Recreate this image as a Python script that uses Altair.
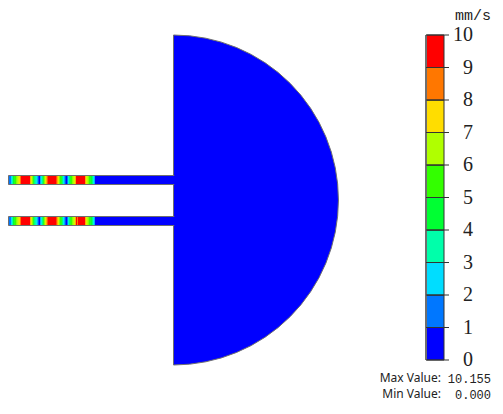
import altair as alt
import pandas as pd

# Speed legend
levels = [0, 1, 2, 3, 4, 5, 6, 7, 8, 9]
level_colors = ["#0000ff", "#0077ff", "#00ddff", "#00ffaa", "#00ff33",
                "#33ff00", "#b0ff00", "#ffdd00", "#ff7700", "#ff0000"]
tick_values = [0, 1, 2, 3, 4, 5, 6, 7, 8, 9, 10]

# Speed read along the first 86 mm of each gate channel (one value per mm)
upper_speed = [1.5, 1.5, 2.5, 3.5, 4.5, 5, 5.5, 6, 6.5, 7, 7.5, 8.5, 9.5,
               10, 10, 10, 10, 10, 10, 10, 10, 8, 7, 6, 5, 4, 3.5, 3, 2, 1, 0.5,
               2, 3, 4, 5, 6, 7, 8, 9,
               10, 10, 10, 10, 10, 10, 10, 10, 9, 8, 7, 6, 5.5, 5, 4, 3, 2, 1, 0.5,
               1.5, 3, 4, 5, 5.5, 6, 6.5, 7, 8,
               10, 10, 10, 10, 10, 10, 10, 10, 10, 8, 7, 6.5, 6, 5.5, 5, 4.5, 4, 3, 2]
lower_speed = [1.5, 1.5, 2.5, 3.5, 4.5, 5, 5.5, 6, 6.5, 7, 7.5, 8.5, 9.5,
               10, 10, 10, 10, 10, 10, 10, 10, 8, 7, 6, 5, 4, 3.5, 3, 2, 1, 0.5,
               2, 3, 4, 5, 6, 7, 8, 9,
               10, 10, 10, 10, 10, 10, 10, 10, 9, 8, 7, 6, 5.5, 5, 4, 3, 2, 1, 0.5,
               1.5, 3, 4, 5, 5.5, 6, 6.5, 7, 8,
               10, 8.5, 10, 10, 10, 10, 10, 10, 10, 8, 7, 6.5, 6, 5.5, 5, 4.5, 4, 3, 2]

# Geometry of the part, in model units
channel_start = 9
channel_end = 174
channel_upper = (175.5, 184.5)
channel_lower = (216.5, 225.5)
disc_centre = (173.5, 200)
disc_radius = 165

W, H = 487, 398
X = alt.Scale(domain=[8, 8 + W], range=[0, W], nice=False, zero=False)
Y = alt.Scale(domain=[8 + H, 8], range=[H, 0], nice=False, zero=False)
LEG = alt.Scale(domain=[0, 10], range=[352, 27], nice=False, zero=False)
R = alt.Scale(domain=[0, disc_radius], range=[0, disc_radius], zero=True)
COL = alt.Scale(type="threshold", domain=levels[1:], range=level_colors)
SMOOTH = alt.Scale(domain=[l + 0.5 for l in levels], range=level_colors, clamp=True)
GRAY = "#6f6f6f"
DARK = "#333333"
MONO = "Liberation Mono"
NARROW = "Liberation Sans Narrow"
SANS = "Noto Sans"


def channel(y0, y1):
    return alt.Chart(pd.DataFrame({"a": [channel_start - 0.5], "b": [channel_end],
                                   "y0": [y0], "y1": [y1]})).mark_rect(
        fill="#0000ff", stroke=GRAY, strokeWidth=1).encode(
        x=alt.X("a:Q", scale=X, axis=None), x2="b:Q",
        y=alt.Y("y0:Q", scale=Y, axis=None), y2="y1:Q")


def junction(y0, y1):
    return alt.Chart(pd.DataFrame({"a": [channel_end - 6], "b": [channel_end + 3],
                                   "y0": [y0 + 0.5], "y1": [y1 - 0.5]})).mark_rect(
        fill="#0000ff").encode(
        x=alt.X("a:Q", scale=X, axis=None), x2="b:Q",
        y=alt.Y("y0:Q", scale=Y, axis=None), y2="y1:Q")


def strip(speed, y0, y1):
    df = pd.DataFrame({"a": [channel_start + i for i in range(len(speed))],
                       "b": [channel_start + i + 1 for i in range(len(speed))],
                       "v": speed, "y0": y0 + 0.5, "y1": y1 - 0.5})
    return alt.Chart(df).mark_rect().encode(
        x=alt.X("a:Q", scale=X, axis=None), x2="b:Q",
        y=alt.Y("y0:Q", scale=Y, axis=None), y2="y1:Q",
        color=alt.Color("v:Q", scale=SMOOTH, legend=None))


disc = alt.Chart(pd.DataFrame({"x": [disc_centre[0]], "y": [disc_centre[1]],
                               "r": [disc_radius]})).mark_arc(
    theta=0, theta2=3.14159265, fill="#0000ff", stroke=GRAY, strokeWidth=1).encode(
    x=alt.X("x:Q", scale=X, axis=None),
    y=alt.Y("y:Q", scale=Y, axis=None),
    radius=alt.Radius("r:Q", scale=R))

bar = alt.Chart(pd.DataFrame({"lo": levels, "hi": [l + 1 for l in levels],
                              "c": [l + 0.5 for l in levels]})).mark_rect(
    stroke=DARK, strokeWidth=1).encode(
    x=alt.value(418.5), x2=alt.value(436),
    y=alt.Y("lo:Q", scale=LEG, axis=None), y2="hi:Q",
    color=alt.Color("c:Q", scale=COL, legend=None))

ticks_df = pd.DataFrame({"t": tick_values, "s": [str(t) for t in tick_values]})
edge = alt.Chart(pd.DataFrame({"lo": [0], "hi": [10]})).mark_rule(
    color=GRAY, strokeWidth=2).encode(
    x=alt.value(418), y=alt.Y("lo:Q", scale=LEG, axis=None), y2="hi:Q")
ticks = alt.Chart(ticks_df).mark_rule(color=DARK, strokeWidth=1).encode(
    x=alt.value(418), x2=alt.value(441),
    y=alt.Y("t:Q", scale=LEG, axis=None))
labels = alt.Chart(ticks_df).mark_text(
    font=NARROW, fontSize=20, align="right", baseline="middle", color="#222222").encode(
    x=alt.value(465), y=alt.Y("t:Q", scale=LEG, axis=None), text="s:N")


def note(text, x, y, font, size, align="right"):
    return alt.Chart(pd.DataFrame({"s": [text]})).mark_text(
        font=font, fontSize=size, align=align, baseline="middle", color="#222222").encode(
        x=alt.value(x), y=alt.value(y), text="s:N")


chart = alt.layer(
    disc,
    channel(*channel_upper), channel(*channel_lower),
    junction(*channel_upper), junction(*channel_lower),
    strip(upper_speed, *channel_upper), strip(lower_speed, *channel_lower),
    bar, edge, ticks, labels,
    note("mm/s", 483, 7, MONO, 15),
    note("Max Value:", 433, 369.5, SANS, 12),
    note("Min Value:", 433, 386, SANS, 12),
    note("10.155", 483, 371, MONO, 12),
    note("0.000", 483, 387, MONO, 12),
).resolve_scale(x="independent", y="independent", color="independent").properties(
    width=W, height=H, padding=0, autosize=alt.AutoSizeParams(type="none"),
).configure_view(stroke=None)

chart.save("out.html", embed_options={"renderer": "svg", "actions": False})
